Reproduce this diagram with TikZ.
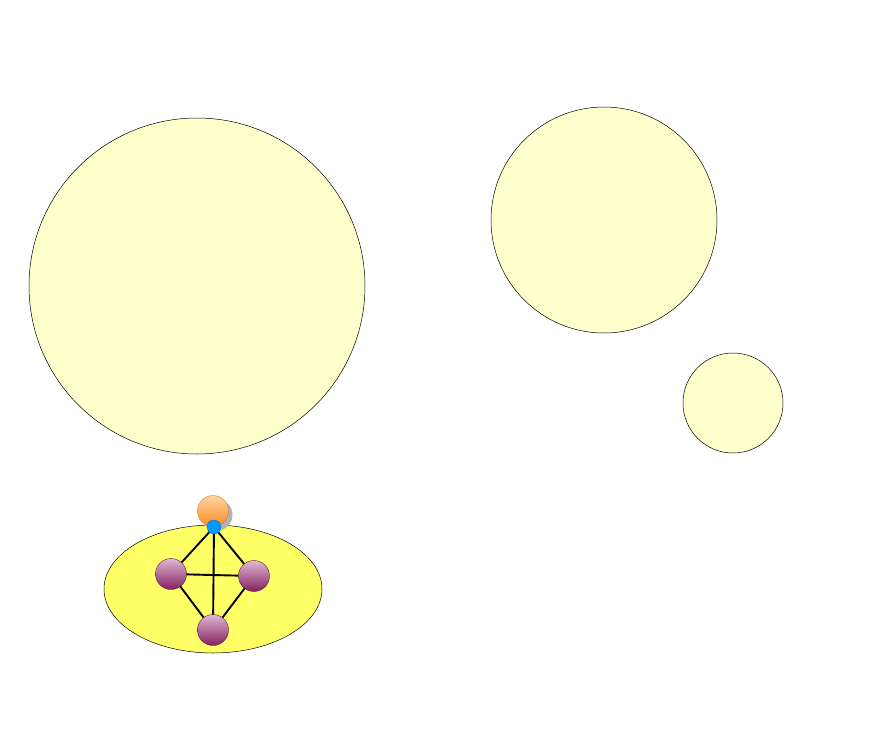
\documentclass[tikz,border=0pt]{standalone}
\usetikzlibrary{shapes.geometric}
\definecolor{paleyellow}{HTML}{FFFFCC}
\definecolor{brightyellow}{HTML}{FFFF66}
\definecolor{purpletop}{HTML}{E0B8D4}
\definecolor{purplebot}{HTML}{85205F}
\definecolor{orangetop}{HTML}{FFD4A0}
\definecolor{orangebot}{HTML}{FF8C28}
\definecolor{bluedot}{HTML}{0099FF}
\pgfdeclarelayer{back}
\pgfdeclarelayer{edges}
\pgfsetlayers{back,edges,main}
\tikzset{
  bigcircle/.style={circle, draw=black, line width=0.5pt, fill=paleyellow, inner sep=0pt},
  ball/.style={circle, draw=purplebot!70!black, line width=0.4pt, inner sep=0pt, minimum size=31pt, top color=purpletop, bottom color=purplebot},
  edge/.style={line width=1.9pt, black},
}
\begin{document}
\begin{tikzpicture}[x=1pt, y=-1pt]
\useasboundingbox (0,0) rectangle (883,753);
\begin{pgfonlayer}{back}
\fill[white] (0,0) rectangle (883,753);
\node[bigcircle, minimum size=336pt] (c1) at (197,286) {};
\node[bigcircle, minimum size=226pt] (c2) at (604,220) {};
\node[bigcircle, minimum size=100pt] (c3) at (733,403) {};
\node[ellipse, draw=black, line width=0.5pt, fill=brightyellow, minimum width=218pt, minimum height=128pt, inner sep=0pt] (el) at (213,589) {};
\end{pgfonlayer}
% shadow of orange ball
\fill[black!30] (217,515) circle (15.5pt);
\node[circle, inner sep=0pt, minimum size=31pt, draw=orangebot!80!black, line width=0.3pt, top color=orangetop, bottom color=orangebot] (top) at (213,511) {};
\node[ball] (left) at (171,574) {};
\node[ball] (right) at (254,576) {};
\node[ball] (bottom) at (213,630) {};
\node[circle, fill=bluedot, draw=bluedot!70!black, line width=0.3pt, inner sep=0pt, minimum size=14pt] (blue) at (214,527) {};
\begin{pgfonlayer}{edges}
\draw[edge] (blue.center) -- (left.center);
\draw[edge] (blue.center) -- (right.center);
\draw[edge] (blue.center) -- (bottom.center);
\draw[edge] (left.center) -- (right.center);
\draw[edge] (left.center) -- (bottom.center);
\draw[edge] (right.center) -- (bottom.center);
\end{pgfonlayer}
\end{tikzpicture}
\end{document}
